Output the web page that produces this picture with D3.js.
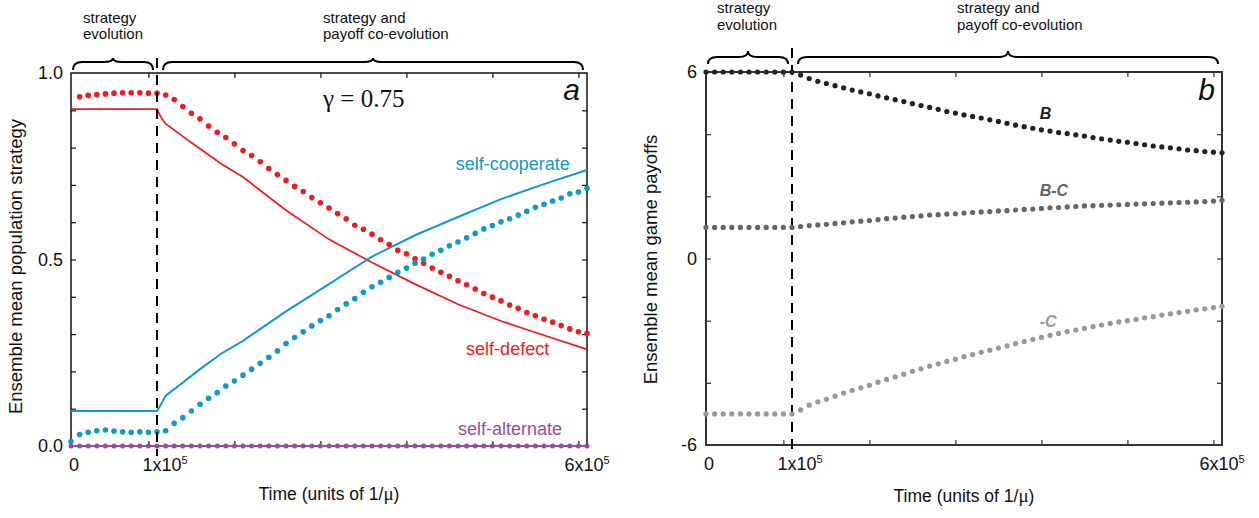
<!DOCTYPE html>
<html>
<head>
<meta charset="utf-8">
<script src="https://cdn.jsdelivr.net/npm/d3@7/dist/d3.min.js"></script>
<style>
  body { margin: 0; background: #fff; }
  text { font-family: "Liberation Sans", Arial, sans-serif; }
</style>
</head>
<body>
<svg id="chart" width="1259" height="518"></svg>
<script>
// sample times of the dotted series (every 1e4 units of 1/mu)
const tDot = d3.range(61).map(i => i * 10000)

// panel a: dotted series
const selfDefectDots = [null, 0.936, 0.940, 0.942, 0.944, 0.946, 0.947, 0.947, 0.947, 0.946, 0.946,
  0.941, 0.929, 0.910, 0.892, 0.877, 0.858, 0.841, 0.827, 0.810, 0.792,
  0.779, 0.762, 0.744, 0.728, 0.712, 0.696, 0.682, 0.666, 0.652, 0.638,
  0.623, 0.609, 0.592, 0.581, 0.568, 0.553, 0.540, 0.525, 0.515, 0.502,
  0.490, 0.477, 0.466, 0.455, 0.443, 0.432, 0.421, 0.409, 0.399, 0.389,
  0.378, 0.369, 0.358, 0.349, 0.340, 0.332, 0.323, 0.314, 0.306, 0.302]
const selfCooperateDots = [0.012, 0.031, 0.037, 0.041, 0.043, 0.040, 0.038, 0.037, 0.038, 0.037, 0.038,
  0.041, 0.061, 0.076, 0.094, 0.112, 0.128, 0.143, 0.161, 0.174, 0.190,
  0.206, 0.222, 0.238, 0.255, 0.275, 0.291, 0.306, 0.322, 0.336, 0.349,
  0.366, 0.381, 0.395, 0.412, 0.427, 0.439, 0.452, 0.466, 0.477, 0.490,
  0.501, 0.514, 0.525, 0.537, 0.547, 0.558, 0.570, 0.582, 0.591, 0.601,
  0.609, 0.619, 0.629, 0.640, 0.648, 0.657, 0.665, 0.676, 0.681, 0.691]
const selfAlternateDots = [0, 0, 0, 0, 0, 0, 0, 0, 0, 0, 0,
  0, 0, 0, 0, 0, 0, 0, 0, 0, 0,
  0, 0, 0, 0, 0, 0, 0, 0, 0, 0,
  0, 0, 0, 0, 0, 0, 0, 0, 0, 0,
  0, 0, 0, 0, 0, 0, 0, 0, 0, 0,
  0, 0, 0, 0, 0, 0, 0, 0, 0, 0]

// panel a: solid series
const tLine = [0, 100000, 105000, 110000, 130000, 150000, 175000, 200000, 250000,
  300000, 350000, 400000, 450000, 500000, 550000, 600000]
const selfDefectLine = [0.903, 0.903, 0.880, 0.864, 0.830, 0.797, 0.756, 0.721, 0.632,
  0.554, 0.492, 0.434, 0.380, 0.335, 0.297, 0.259]
const selfCooperateLine = [0.094, 0.094, 0.113, 0.135, 0.170, 0.206, 0.248, 0.282, 0.361,
  0.434, 0.508, 0.565, 0.614, 0.662, 0.702, 0.740]

// panel b: payoffs
const payoffB = [6, 6, 6, 6, 6, 6, 6, 6, 6, 6, 6,
  5.90, 5.79, 5.70, 5.63, 5.56, 5.49, 5.42, 5.36, 5.30, 5.23,
  5.17, 5.11, 5.05, 4.98, 4.92, 4.86, 4.80, 4.73, 4.68, 4.62,
  4.57, 4.52, 4.46, 4.41, 4.35, 4.29, 4.24, 4.19, 4.14, 4.10,
  4.05, 4.02, 3.98, 3.94, 3.89, 3.85, 3.81, 3.77, 3.74, 3.70,
  3.66, 3.62, 3.59, 3.56, 3.53, 3.49, 3.47, 3.44, 3.42, 3.40]
const payoffBminusC = [1, 1, 1, 1, 1, 1, 1, 1, 1, 1, 1,
  1.03, 1.06, 1.08, 1.10, 1.13, 1.15, 1.18, 1.20, 1.22, 1.25,
  1.28, 1.30, 1.33, 1.35, 1.37, 1.40, 1.41, 1.43, 1.44, 1.46,
  1.48, 1.50, 1.51, 1.53, 1.54, 1.56, 1.58, 1.59, 1.61, 1.63,
  1.64, 1.66, 1.67, 1.69, 1.70, 1.71, 1.72, 1.73, 1.74, 1.75,
  1.76, 1.77, 1.78, 1.79, 1.80, 1.81, 1.82, 1.83, 1.85, 1.87]
const payoffMinusC = [-5, -5, -5, -5, -5, -5, -5, -5, -5, -5, -5,
  -4.87, -4.72, -4.61, -4.53, -4.43, -4.33, -4.24, -4.16, -4.08, -3.98,
  -3.89, -3.81, -3.72, -3.63, -3.55, -3.46, -3.39, -3.31, -3.24, -3.16,
  -3.09, -3.02, -2.95, -2.88, -2.81, -2.74, -2.67, -2.60, -2.54, -2.47,
  -2.41, -2.35, -2.30, -2.25, -2.19, -2.14, -2.09, -2.04, -2.00, -1.96,
  -1.91, -1.87, -1.82, -1.78, -1.74, -1.70, -1.65, -1.62, -1.58, -1.54]

// ticks and labels
const xMinorTicks = [90000, 190000, 290000, 390000, 490000, 590000]
const xLabelValues = [0, 100000, 600000]
const xLabelBase = ['0', '1x10', '6x10']
const xLabelExp = ['', '5', '5']
const xLabelShift = [3, 8, 0]
const yTicksA = [0.1, 0.2, 0.3, 0.4, 0.5, 0.6, 0.7, 0.8, 0.9]
const yLabelValuesA = [0, 0.5, 1]
const yLabelsA = ['0.0', '0.5', '1.0']
const yTicksB = [-4, -2, 0, 2, 4]
const yLabelValuesB = [-6, 0, 6]
const yLabelsB = ['-6', '0', '6']
const phaseSplit = 100000

const svg = d3.select('#chart')
const W = 516, H = 373
const serif = '"Liberation Serif", "Times New Roman", serif'

function brace(g, x0, x1, yCusp, yLine, yEnd) {
  const xm = (x0 + x1) / 2, r = 9
  const p = d3.path()
  p.moveTo(x0, yEnd)
  p.quadraticCurveTo(x0, yLine, x0 + r, yLine)
  p.lineTo(xm - r, yLine)
  p.quadraticCurveTo(xm, yLine, xm, yCusp)
  p.quadraticCurveTo(xm, yLine, xm + r, yLine)
  p.lineTo(x1 - r, yLine)
  p.quadraticCurveTo(x1, yLine, x1, yEnd)
  g.append('path').attr('d', p.toString())
    .attr('fill', 'none').attr('stroke', '#000').attr('stroke-width', 2)
}

function frame(g, x, y, yTicks, color, width) {
  const inner = [
    [d3.axisBottom(x).tickValues(xMinorTicks), `translate(0,${H})`],
    [d3.axisTop(x).tickValues(xMinorTicks), 'translate(0,0)'],
    [d3.axisLeft(y).tickValues(yTicks), 'translate(0,0)'],
    [d3.axisRight(y).tickValues(yTicks), `translate(${W},0)`]
  ]
  inner.forEach(([axis, tr]) => {
    const a = g.append('g').attr('transform', tr)
      .call(axis.tickSize(-5).tickSizeOuter(0).tickFormat(''))
    a.select('.domain').remove()
    a.selectAll('line').attr('stroke', color).attr('stroke-width', 1.2)
  })
  g.append('rect').attr('width', W).attr('height', H)
    .attr('fill', 'none').attr('stroke', color).attr('stroke-width', width)
}

function xLabels(g, x, yBase) {
  xLabelValues.forEach((v, i) => {
    const t = g.append('text').attr('x', x(v) + xLabelShift[i]).attr('y', yBase)
      .attr('text-anchor', 'middle').attr('font-size', 18).attr('fill', '#111')
      .text(xLabelBase[i])
    if (xLabelExp[i]) t.append('tspan').attr('dy', -7).attr('font-size', 11).text(xLabelExp[i])
  })
}

function timeTitle(g, yBase) {
  const t = g.append('text').attr('x', W / 2).attr('y', yBase)
    .attr('text-anchor', 'middle').attr('font-size', 17.5).attr('fill', '#111')
    .text('Time (units of 1/')
  t.append('tspan').style('font-family', serif).attr('font-size', 19).text('μ')
  t.append('tspan').text(')')
}

function dots(g, x, y, vals, color, r) {
  g.append('g').selectAll('circle')
    .data(tDot.map((t, i) => [t, vals[i]]).filter(d => d[1] !== null))
    .join('circle')
    .attr('cx', d => x(d[0])).attr('cy', d => y(d[1])).attr('r', r).attr('fill', color)
}

// ---------- panel a ----------
{
  const g = svg.append('g').attr('transform', 'translate(71,73)')
  const x = d3.scaleLinear().domain([0, 600000]).range([0, W])
  const y = d3.scaleLinear().domain([0, 1]).range([H, 0])
  const red = '#ec1c24', cyan = '#0f9ac8', purple = '#984c9c'

  frame(g, x, y, yTicksA, '#111', 1.5)

  const line = d3.line().x(d => x(d[0])).y(d => y(d[1]))
  g.append('path').attr('d', line(tLine.map((t, i) => [t, selfDefectLine[i]])))
    .attr('fill', 'none').attr('stroke', red).attr('stroke-width', 1.7)
  g.append('path').attr('d', line(tLine.map((t, i) => [t, selfCooperateLine[i]])))
    .attr('fill', 'none').attr('stroke', cyan).attr('stroke-width', 2)
  g.append('path').attr('d', line(tDot.map((t, i) => [t, selfAlternateDots[i]])))
    .attr('fill', 'none').attr('stroke', purple).attr('stroke-width', 2.2)

  dots(g, x, y, selfDefectDots, red, 2.8)
  dots(g, x, y, selfCooperateDots, cyan, 2.8)
  dots(g, x, y, selfAlternateDots, purple, 2.5)

  g.append('line').attr('x1', x(phaseSplit)).attr('x2', x(phaseSplit))
    .attr('y1', -15).attr('y2', H + 10)
    .attr('stroke', '#000').attr('stroke-width', 2).attr('stroke-dasharray', '10,7')

  yLabelValuesA.forEach((v, i) => {
    g.append('text').attr('x', -8).attr('y', y(v) + 6).attr('text-anchor', 'end')
      .attr('font-size', 18).attr('fill', '#111').text(yLabelsA[i])
  })
  xLabels(g, x, H + 25)
  timeTitle(g, H + 54)

  g.append('text').attr('transform', `translate(-49,${H / 2 + 7}) rotate(-90)`)
    .attr('text-anchor', 'middle').attr('font-size', 18.5).attr('fill', '#111')
    .text('Ensemble mean population strategy')

  brace(g, x(0) + 2, x(phaseSplit) - 4, -15, -11, -3)
  brace(g, x(phaseSplit) + 6, x(600000) - 4, -15, -11, -3)

  const head = [['strategy', 'evolution', 12], ['strategy and', 'payoff co-evolution', 252]]
  head.forEach(([l1, l2, hx]) => {
    g.append('text').attr('x', hx).attr('y', -50).attr('font-size', 15).attr('fill', '#111').text(l1)
    g.append('text').attr('x', hx).attr('y', -34).attr('font-size', 15).attr('fill', '#111').text(l2)
  })

  g.append('text').attr('x', 252).attr('y', 34).attr('font-size', 25)
    .style('font-family', serif).attr('fill', '#111').text('γ = 0.75')
  g.append('text').attr('x', W - 7).attr('y', 27).attr('text-anchor', 'end')
    .attr('font-size', 30).attr('font-style', 'italic').attr('fill', '#111').text('a')

  g.append('text').attr('x', x(580000)).attr('y', y(0.74)).attr('text-anchor', 'end')
    .attr('font-size', 18).attr('fill', cyan).text('self-cooperate')
  g.append('text').attr('x', x(556000)).attr('y', y(0.244)).attr('text-anchor', 'end')
    .attr('font-size', 18).attr('fill', red).text('self-defect')
  g.append('text').attr('x', x(571000)).attr('y', y(0.029)).attr('text-anchor', 'end')
    .attr('font-size', 18).attr('fill', purple).text('self-alternate')
}

// ---------- panel b ----------
{
  const g = svg.append('g').attr('transform', 'translate(706,72)')
  const x = d3.scaleLinear().domain([0, 600000]).range([0, W])
  const y = d3.scaleLinear().domain([-6, 6]).range([H, 0])
  const cB = '#222', cBC = '#666', cC = '#999'

  frame(g, x, y, yTicksB, '#333', 2)

  g.append('line').attr('x1', x(phaseSplit)).attr('x2', x(phaseSplit))
    .attr('y1', -24).attr('y2', H + 11)
    .attr('stroke', '#000').attr('stroke-width', 2).attr('stroke-dasharray', '10,7')

  dots(g, x, y, payoffMinusC, cC, 2.6)
  dots(g, x, y, payoffBminusC, cBC, 2.6)
  dots(g, x, y, payoffB, cB, 2.6)

  yLabelValuesB.forEach((v, i) => {
    g.append('text').attr('x', -9).attr('y', y(v) + 6).attr('text-anchor', 'end')
      .attr('font-size', 18).attr('fill', '#111').text(yLabelsB[i])
  })
  xLabels(g, x, H + 25)
  timeTitle(g, H + 57)

  g.append('text').attr('transform', `translate(-49,${H / 2 + 1}) rotate(-90)`)
    .attr('text-anchor', 'middle').attr('font-size', 18.5).attr('fill', '#111')
    .text('Ensemble mean game payoffs')

  brace(g, x(0) + 2, x(phaseSplit) - 4, -21, -15, -8)
  brace(g, x(phaseSplit) + 6, x(600000) - 4, -21, -15, -8)

  const head = [['strategy', 'evolution', 11], ['strategy and', 'payoff co-evolution', 251]]
  head.forEach(([l1, l2, hx]) => {
    g.append('text').attr('x', hx).attr('y', -59).attr('font-size', 15).attr('fill', '#111').text(l1)
    g.append('text').attr('x', hx).attr('y', -42).attr('font-size', 15).attr('fill', '#111').text(l2)
  })

  g.append('text').attr('x', W - 7).attr('y', 28).attr('text-anchor', 'end')
    .attr('font-size', 30).attr('font-style', 'italic').attr('fill', '#111').text('b')

  const lab = (tx, v, txt, c) => g.append('text').attr('x', x(tx)).attr('y', y(v))
    .attr('font-size', 16).attr('font-weight', 'bold').attr('font-style', 'italic')
    .attr('fill', c).text(txt)
  lab(388000, 4.48, 'B', cB)
  lab(388000, 2.0, 'B-C', cBC)
  lab(388000, -2.2, '-C', cC)
}
</script>
</body>
</html>
